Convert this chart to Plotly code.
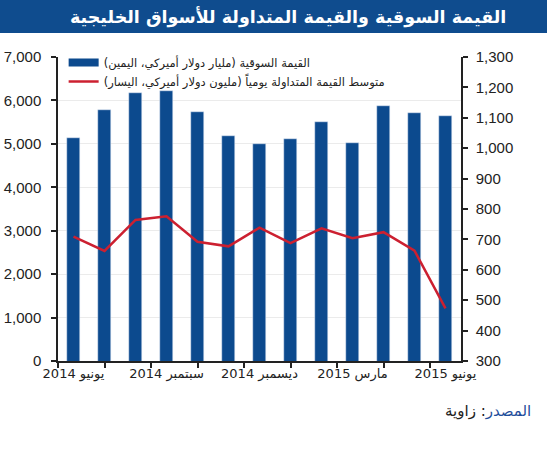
import plotly.graph_objects as go

months = ["يونيو 2014", "يوليو 2014", "أغسطس 2014", "سبتمبر 2014", "أكتوبر 2014",
          "نوفمبر 2014", "ديسمبر 2014", "يناير 2015", "فبراير 2015", "مارس 2015",
          "أبريل 2015", "مايو 2015", "يونيو 2015"]
market_value = [1034, 1125, 1181, 1187, 1119, 1040, 1013, 1031, 1086, 1016, 1139, 1116, 1105]
daily_traded = [2862, 2533, 3247, 3330, 2744, 2640, 3070, 2715, 3055, 2828, 2966, 2540, 1213]
left_ticks = [0, 1000, 2000, 3000, 4000, 5000, 6000, 7000]
right_ticks = [300, 400, 500, 600, 700, 800, 900, 1000, 1100, 1200, 1300]

name_bar = "\u200fالقيمة السوقية (مليار دولار أميركي، اليمين)\u200f"
name_line = "\u200fمتوسط القيمة المتداولة يومياً (مليون دولار أميركي، اليسار)\u200f"
title_text = "القيمة السوقية والقيمة المتداولة للأسواق الخليجية"
source_text = "<span style='color:#1f4e9b'>المصدر</span>: زاوية"

BAR = "#0c4a8e"
RED = "#cc2030"
AX = "#222222"
FONT = "Liberation Sans, DejaVu Sans, sans-serif"

idx = list(range(len(months)))

fig = go.Figure()
fig.add_trace(go.Bar(x=idx, y=market_value, name=name_bar, marker_color=BAR,
                     width=0.39, yaxis="y", showlegend=False))
# legend entry for the bars, drawn as a wide flat swatch like the reference
fig.add_trace(go.Scatter(x=[None], y=[None], name=name_bar, mode="lines",
                         line=dict(color=BAR, width=8), yaxis="y"))
fig.add_trace(go.Scatter(x=idx, y=daily_traded, name=name_line, mode="lines",
                         line=dict(color=RED, width=2.5), yaxis="y2"))

W, H = 547, 450
L, R, T, B = 58, 86, 57, 89
pw, ph = W - L - R, H - T - B

def px_x(x):
    return (x - L) / pw

def px_y(y):
    return 1 + (T - y) / ph

fig.update_layout(
    width=W, height=H,
    margin=dict(l=L, r=R, t=T, b=B, autoexpand=False),
    paper_bgcolor="white", plot_bgcolor="white",
    font=dict(family=FONT, color="#222222"),
    showlegend=True,
    bargap=0,
    legend=dict(x=0.014, y=1.03, xanchor="left", yanchor="top",
                bgcolor="rgba(255,255,255,0)", font=dict(size=11.5, family="DejaVu Sans"),
                tracegroupgap=0, itemwidth=30),
    xaxis=dict(range=[-0.5, 12.5], tickmode="array", tickvals=idx[::3],
               ticktext=months[::3], ticks="", showgrid=False, automargin=False,
               showline=True, linecolor=AX, linewidth=1.5,
               tickfont=dict(size=13, family="DejaVu Sans"),
               minor=dict(tickmode="array",
                          tickvals=[-0.5 + 1.5 * k for k in range(9)],
                          ticks="outside", ticklen=5, tickcolor=AX, tickwidth=1.5,
                          showgrid=False),
               zeroline=False),
    yaxis=dict(side="right", range=[300, 1300], tickmode="array", tickvals=right_ticks,
               tickformat=",", showgrid=False, zeroline=False, automargin=False,
               showline=True, linecolor=AX, linewidth=1.5,
               ticks="outside", ticklen=5, tickcolor=AX, tickwidth=1.5,
               ticklabelstandoff=5,
               tickfont=dict(size=15)),
    yaxis2=dict(side="left", overlaying="y", range=[0, 7000], tickmode="array",
                tickvals=left_ticks, tickformat=",", showgrid=True, automargin=False,
                gridcolor="#ebebeb", gridwidth=1, zeroline=False,
                showline=True, linecolor=AX, linewidth=1.5,
                ticks="outside", ticklen=5, tickcolor=AX, tickwidth=1.5,
                ticklabelstandoff=7,
                tickfont=dict(size=15)),
)

# title band
fig.add_shape(type="rect", xref="paper", yref="paper",
              x0=px_x(0), x1=px_x(W), y0=px_y(33), y1=px_y(0),
              fillcolor="#0f4c8e", line=dict(width=0), layer="above")
fig.add_annotation(text="<b>" + title_text + "</b>", xref="paper", yref="paper",
                   x=px_x(288), y=px_y(17), xanchor="center", yanchor="middle",
                   showarrow=False, font=dict(size=17.5, color="white", family="DejaVu Sans"))
fig.add_annotation(text=source_text, xref="paper", yref="paper",
                   x=px_x(533), y=px_y(411), xanchor="right", yanchor="middle",
                   showarrow=False, font=dict(size=15, color="#222222", family="DejaVu Sans"))

fig.write_html("out.html")
